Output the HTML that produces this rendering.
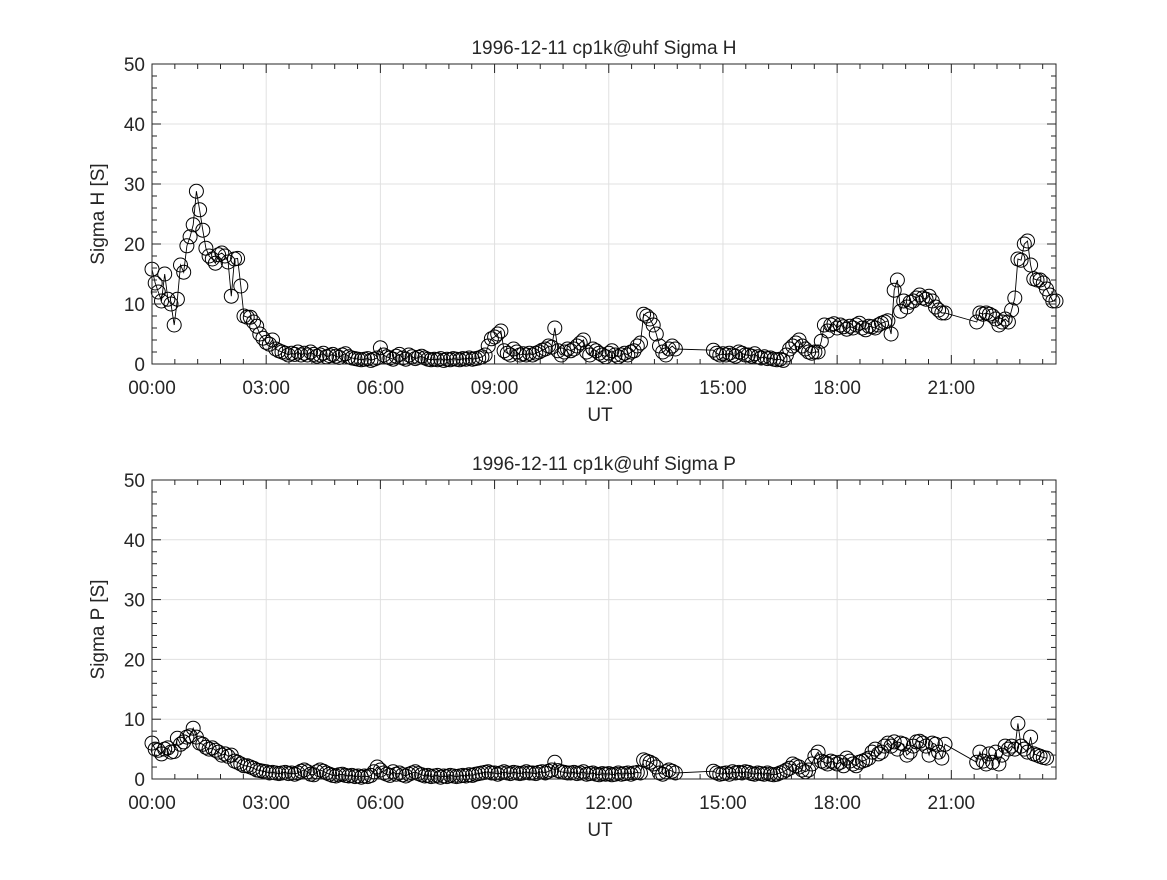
<!DOCTYPE html>
<html><head><meta charset="utf-8"><style>
body{margin:0;background:#fff}
svg text{font-family:"Liberation Sans","DejaVu Sans",sans-serif;fill:#262626}
</style></head><body>
<svg id="fig" width="1167" height="875" xmlns="http://www.w3.org/2000/svg"></svg>
<script>
// hour categories (each hour has 12 five-minute slots)
const hours=[0,1,2,3,4,5,6,7,8,9,10,11,12,13,14,15,16,17,18,19,20,21,22,23];
const xTickLabels=["00:00","03:00","06:00","09:00","12:00","15:00","18:00","21:00"];
const yTickLabels=["0","10","20","30","40","50"];
const N=null;
const sigmaH=[
[15.8,13.5,12,10.5,15,10.8,10,6.5,10.8,16.5,15.3,19.7],
[21.2,23.2,28.8,25.7,22.3,19.3,18,17.5,16.8,18.2,18.5,18],
[17,11.3,17.5,17.6,13,8,7.8,7.8,7,6.3,5,4.3],
[3.6,3.3,4,2.5,2.2,2,1.8,1.5,1.8,1.6,2,1.5],
[1.8,1.5,2,1.6,1.3,1.5,1.8,1.2,1.4,1.6,1.3,1.1],
[1.5,1.7,1.2,1,0.9,0.8,0.7,0.8,0.9,0.6,0.8,1],
[2.7,1.5,1.2,1,0.8,1.3,1.6,1,0.8,1.5,1.2,0.9],
[1.1,1.3,1,0.8,0.7,0.8,0.7,0.9,0.6,0.8,0.7,0.9],
[0.8,0.7,0.9,0.8,1,0.8,0.9,1,1.2,1.5,3,4.2],
[4.5,5,5.5,2.2,1.8,1.5,2.5,2,1.5,1.7,1.5,1.8],
[1.5,1.8,2,2.3,2.5,3,2.8,6,2.2,1.5,2,2.5],
[2.2,2.5,3,3.5,4,2,1.5,2.5,2.2,1.8,1.5,1.2],
[1.8,2.2,1.5,1.2,1.5,1.8,1.5,2,2.2,3,3.5,8.3],
[8,7.5,6.5,5,3,2,1.5,2.5,3,2.5,N,N],
[N,N,N,N,N,N,N,N,N,2.3,1.8,1.5],
[1.7,1.5,1.8,1.5,1.3,2,1.8,1.5,1.5,1.3,1.7,1.2],
[1,1.2,0.9,1,0.8,0.7,0.8,0.6,1.5,2.5,3,3.5],
[4,3,2.5,2,1.8,2,2,3.8,6.5,5.5,6.5,6.7],
[6,6.5,6.2,5.8,6.3,6,6.5,6.8,6,5.7,6.3,6.2],
[6,6.5,6.8,7,7.2,5,12.3,14,8.8,10.5,9.5,10.3],
[10.5,11,11.5,11,10.8,11.3,10.5,9.5,9,8.5,8.5,N],
[N,N,N,N,N,N,N,N,7,8.5,8.3,8.5],
[8.3,8,7.5,6.5,7,7.5,7,9,11,17.5,17.3,20],
[20.5,16.5,14.2,14,14,13.5,12.5,11.5,10.5,10.5,N,N]];
const sigmaP=[
[6,5,4.8,4.2,5,5.2,4.5,4.6,6.8,5.8,6.2,7],
[7.2,8.5,7,6,5.8,5.3,5,5.2,4.8,4.5,4,4.2],
[3.8,4,3,2.8,2.5,2.2,2.2,2,1.8,1.5,1.4,1.3],
[1.2,1,1.1,1,0.9,1,1.1,0.9,1,0.8,1,1.3],
[1.5,1.2,0.8,0.7,1.2,1.5,1.3,1,0.8,0.6,0.5,0.7],
[0.8,0.6,0.5,0.6,0.4,0.5,0.3,0.5,0.4,0.6,1.2,2],
[1.5,1,0.8,0.6,1.2,0.8,1,0.7,0.5,0.8,1,1.2],
[0.9,0.7,0.5,0.6,0.4,0.5,0.6,0.3,0.5,0.4,0.6,0.5],
[0.4,0.5,0.6,0.5,0.7,0.6,0.8,0.9,1,1.1,1.2,1],
[1,0.8,1,1.2,1,0.9,1.1,1,0.9,1,1.2,1],
[1,0.9,1.1,1.2,1,1.3,1.5,2.8,1.4,1.2,1.1,1],
[1,1.1,0.9,1,1.2,0.8,0.9,1,0.8,0.7,0.9,0.8],
[0.9,0.7,0.8,1,0.8,0.9,1,0.8,1,1.1,1,3.2],
[3,2.8,2.5,2,1,0.8,1.2,1.5,1.3,1,N,N],
[N,N,N,N,N,N,N,N,N,1.3,1,0.8],
[0.9,1,0.8,1.2,1,1.1,1,1.2,1.1,0.9,0.8,1],
[0.9,0.8,1,0.8,0.7,0.8,1,1.2,1.5,1.8,2.5,2.2],
[2,1.5,1.2,1.5,2.5,3.8,4.5,3,2.8,2.5,3,2.8],
[2.5,2.8,2.2,3.5,3,2.5,2.2,2.8,3,3.2,3.5,4.5],
[5,4.2,4.5,5.5,6,5.5,6.2,5,6,5.8,4,4.5],
[5.5,6.2,6.3,6,5.5,4,6,5.8,4.5,3.5,5.8,N],
[N,N,N,N,N,N,N,N,2.8,4.5,3,2.5],
[4.2,2.8,4.5,2.5,4,5.5,5,5.5,5,9.3,5.5,5],
[4.5,7,4.2,4,3.8,3.6,3.5,N,N,N,N,N]];

const NS="http://www.w3.org/2000/svg";
const svg=document.getElementById('fig');
function mk(tag,attrs,parent){const e=document.createElementNS(NS,tag);for(const k in attrs)e.setAttribute(k,attrs[k]);(parent||svg).appendChild(e);return e;}
const L=152,R=1056,XMAX=23.75;
const xs=h=>L+h/XMAX*(R-L);

function panel(top,bottom,data,title,ylab,key){
  const g=mk('g',{});
  
  
  const ys=v=>bottom-v/50*(bottom-top);
  mk('rect',{x:L,y:top,width:R-L,height:bottom-top,fill:'#fff'},g);
  // grid
  for(let i=0;i<xTickLabels.length;i++){const x=xs(i*3);
    mk('line',{x1:x,x2:x,y1:top,y2:bottom,stroke:'#e0e0e0','stroke-width':1},g);}
  for(let i=0;i<yTickLabels.length;i++){const y=ys(+yTickLabels[i]);
    mk('line',{x1:L,x2:R,y1:y,y2:y,stroke:'#e0e0e0','stroke-width':1},g);}
  // series
  const pts=[];
  hours.forEach((h,hi)=>data[hi].forEach((v,k)=>{if(v!==null)pts.push([xs(h+k/12),ys(v)]);}));
  const ln=mk('polyline',{points:pts.map(p=>p.map(n=>n.toFixed(1)).join(',')).join(' '),fill:'none',stroke:'#000','stroke-width':0.9},g);
  
  
  pts.forEach(p=>{const c=mk('circle',{cx:p[0].toFixed(1),cy:p[1].toFixed(1),r:7,fill:'none',stroke:'#000','stroke-width':1},g);
    
    });
  // box
  mk('rect',{x:L,y:top,width:R-L,height:bottom-top,fill:'none',stroke:'#262626','stroke-width':1},g);
  // minor/major ticks
  for(let m=0;m*0.6<=XMAX+1e-6;m++){const x=xs(m*0.6);const len=(m%5===0)?9:5;
    mk('line',{x1:x,x2:x,y1:bottom,y2:bottom-len,stroke:'#262626'},g);
    mk('line',{x1:x,x2:x,y1:top,y2:top+len,stroke:'#262626'},g);}
  for(let v=0;v<=50;v+=2){const y=ys(v);const len=(v%10===0)?9:5;
    mk('line',{x1:L,x2:L+len,y1:y,y2:y,stroke:'#262626'},g);
    mk('line',{x1:R,x2:R-len,y1:y,y2:y,stroke:'#262626'},g);}
  xTickLabels.forEach((t,i)=>{const e=mk('text',{x:xs(i*3),y:bottom+30,'font-size':19,'text-anchor':'middle'},g);e.textContent=t;
    });
  yTickLabels.forEach(t=>{const e=mk('text',{x:L-7,y:ys(+t)+7,'font-size':19,'text-anchor':'end'},g);e.textContent=t;
    });
  const xt=mk('text',{x:(L+R)/2-4,y:bottom+57,'font-size':19,'text-anchor':'middle'},g);xt.textContent='UT';
  
  const yt=mk('text',{x:0,y:0,'font-size':19,'text-anchor':'middle',transform:`translate(104,${(top+bottom)/2}) rotate(-90)`},g);yt.textContent=ylab;
  
  const tt=mk('text',{x:(L+R)/2,y:top-10,'font-size':19,'text-anchor':'middle',fill:'#000'},g);tt.textContent=title;
  
}
panel(64,364,sigmaH,'1996-12-11  cp1k@uhf Sigma H','Sigma H [S]','sigma-h');
panel(480,779,sigmaP,'1996-12-11  cp1k@uhf Sigma P','Sigma P [S]','sigma-p');
</script>
</body></html>
